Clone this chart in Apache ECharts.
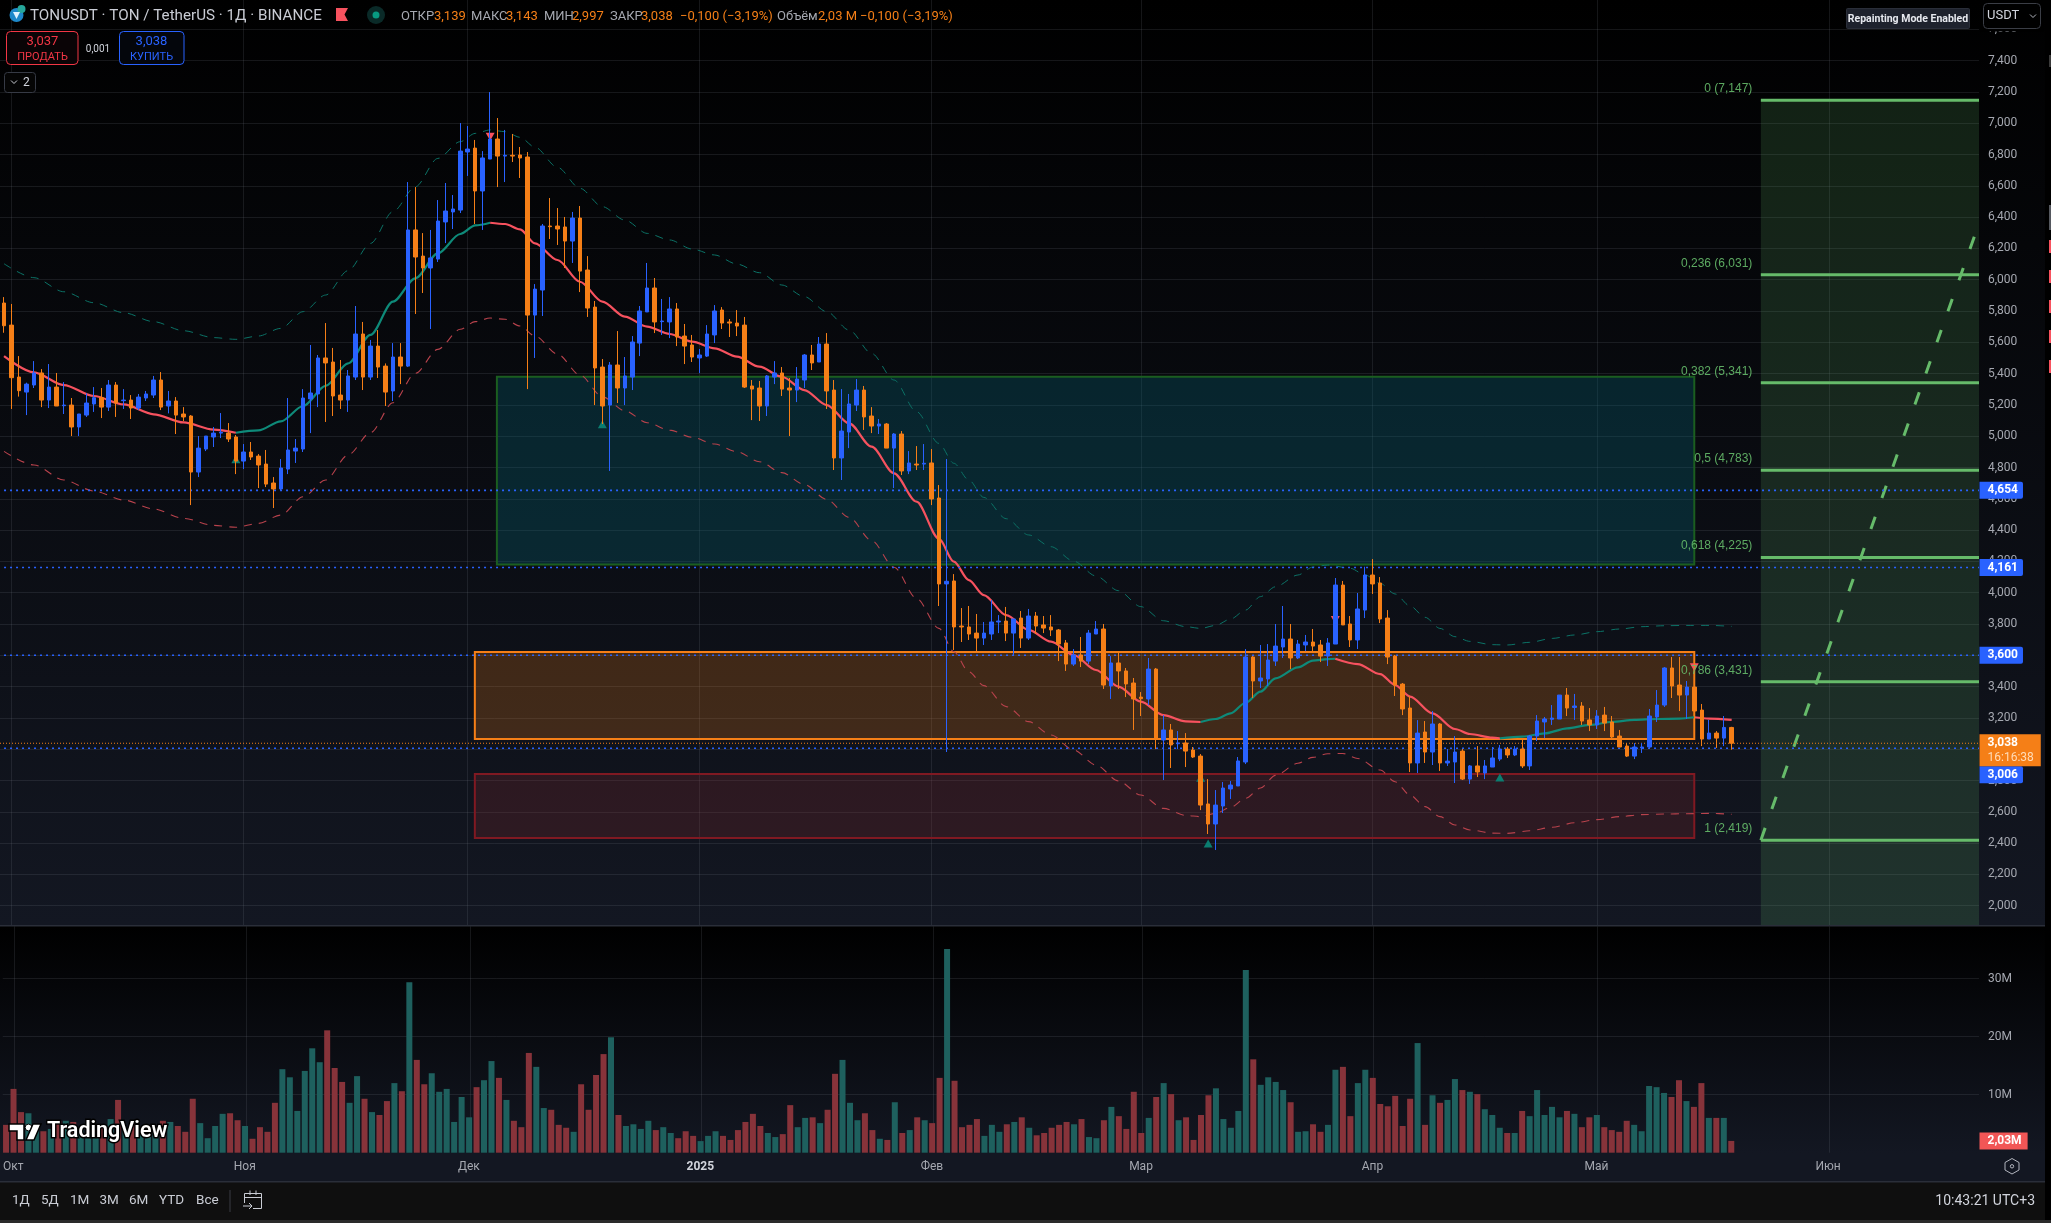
<!DOCTYPE html>
<html><head><meta charset="utf-8">
<style>html,body{margin:0;padding:0;background:#000;overflow:hidden}#c{width:2051px;height:1223px}</style>
<script src="https://cdn.jsdelivr.net/npm/echarts@6/dist/echarts.min.js"></script>
</head><body><div id="c"></div>
<script>
// [open, high, low, close], one row per daily bar from 30 Sep 2024
const ohlc=[
[5.851,5.889,5.661,5.706],[5.710,5.845,5.174,5.374],[5.378,5.512,5.253,5.291],[5.282,5.342,5.135,5.333],[5.327,5.480,5.308,5.404],[5.404,5.429,5.186,5.231],[5.231,5.461,5.180,5.314],[5.314,5.404,5.193,5.193],[5.195,5.346,5.142,5.199],[5.199,5.244,5.001,5.059],
[5.059,5.142,5.001,5.142],[5.135,5.274,5.123,5.212],[5.206,5.314,5.155,5.246],[5.246,5.308,5.116,5.186],[5.186,5.359,5.161,5.327],[5.327,5.346,5.123,5.212],[5.227,5.301,5.174,5.231],[5.231,5.263,5.110,5.180],[5.180,5.270,5.167,5.250],[5.244,5.289,5.225,5.270],
[5.263,5.385,5.244,5.359],[5.359,5.410,5.167,5.186],[5.193,5.289,5.146,5.225],[5.225,5.250,5.014,5.135],[5.142,5.186,5.097,5.123],[5.129,5.135,4.560,4.771],[4.771,5.001,4.739,4.924],[4.918,5.001,4.905,5.001],[4.995,5.059,4.931,5.020],[5.020,5.148,4.988,5.025],
[5.020,5.084,4.963,4.982],[4.995,5.008,4.758,4.841],[4.841,4.950,4.790,4.899],[4.899,4.963,4.848,4.867],[4.873,4.886,4.669,4.816],[4.822,4.912,4.675,4.694],[4.701,4.739,4.541,4.663],[4.663,4.854,4.656,4.797],[4.790,5.244,4.758,4.912],[4.905,4.982,4.829,4.924],
[4.918,5.301,4.899,5.244],[5.238,5.583,5.020,5.276],[5.270,5.519,5.186,5.500],[5.500,5.723,5.091,5.468],[5.474,5.564,5.129,5.257],[5.263,5.487,5.174,5.231],[5.231,5.423,5.155,5.385],[5.378,5.832,5.359,5.653],[5.653,5.730,5.295,5.378],[5.378,5.615,5.359,5.576],
[5.576,5.678,5.372,5.442],[5.448,5.465,5.193,5.282],[5.289,5.595,5.225,5.506],[5.506,5.595,5.333,5.448],[5.448,6.624,5.442,6.318],[6.318,6.592,5.781,6.145],[6.151,6.298,5.915,6.075],[6.075,6.318,5.685,6.139],[6.132,6.509,6.113,6.375],[6.369,6.618,6.234,6.439],
[6.433,6.541,6.324,6.452],[6.445,7.001,6.426,6.822],[6.816,6.982,6.663,6.835],[6.841,6.893,6.356,6.567],[6.567,6.822,6.318,6.778],[6.771,7.199,6.771,6.899],[6.899,7.033,6.592,6.790],[6.790,6.957,6.624,6.795],[6.795,6.931,6.752,6.790],[6.797,6.848,6.650,6.778],
[6.784,6.816,5.301,5.774],[5.774,5.972,5.500,5.940],[5.934,6.356,5.768,6.343],[6.343,6.522,6.260,6.339],[6.343,6.458,6.222,6.324],[6.337,6.401,6.075,6.247],[6.247,6.433,6.107,6.394],[6.394,6.471,5.921,6.055],[6.062,6.151,5.762,5.819],[5.825,5.864,5.199,5.436],
[5.442,5.493,5.078,5.193],[5.199,5.474,4.778,5.455],[5.455,5.672,5.212,5.308],[5.308,5.506,5.199,5.385],[5.378,5.640,5.295,5.602],[5.595,5.832,5.512,5.800],[5.794,6.107,5.794,5.947],[5.947,6.011,5.659,5.730],[5.732,5.877,5.647,5.736],[5.730,5.889,5.627,5.813],
[5.813,5.851,5.576,5.634],[5.640,5.717,5.461,5.576],[5.583,5.647,5.474,5.506],[5.500,5.557,5.404,5.519],[5.512,5.710,5.506,5.653],[5.647,5.838,5.595,5.800],[5.806,5.825,5.685,5.723],[5.730,5.749,5.634,5.723],[5.723,5.806,5.640,5.704],[5.710,5.762,5.308,5.314],
[5.321,5.359,5.103,5.301],[5.308,5.353,5.097,5.193],[5.193,5.391,5.129,5.385],[5.378,5.480,5.333,5.404],[5.404,5.442,5.257,5.301],[5.308,5.372,5.001,5.295],[5.295,5.442,5.218,5.365],[5.359,5.525,5.308,5.519],[5.519,5.583,5.423,5.468],[5.474,5.634,5.474,5.589],
[5.589,5.659,5.174,5.289],[5.295,5.359,4.784,4.861],[4.861,5.301,4.720,5.033],[5.027,5.270,4.924,5.206],[5.199,5.365,5.161,5.295],[5.295,5.321,5.040,5.123],[5.129,5.186,5.020,5.065],[5.065,5.110,5.014,5.078],[5.078,5.084,4.924,4.924],[4.924,5.020,4.669,5.014],
[5.014,5.033,4.752,4.778],[4.778,4.905,4.758,4.829],[4.822,4.937,4.784,4.816],[4.822,4.950,4.784,4.827],[4.829,4.918,4.560,4.599],[4.605,4.688,3.915,4.056],[4.056,4.854,2.982,4.073],[4.075,4.119,3.634,3.781],[3.787,3.902,3.685,3.781],[3.781,3.915,3.698,3.736],
[3.742,3.864,3.621,3.710],[3.710,3.813,3.666,3.742],[3.736,3.953,3.698,3.813],[3.813,3.857,3.742,3.819],[3.819,3.909,3.691,3.742],[3.742,3.832,3.602,3.832],[3.838,3.883,3.647,3.710],[3.710,3.896,3.698,3.851],[3.851,3.877,3.736,3.787],[3.794,3.851,3.742,3.774],
[3.781,3.857,3.723,3.762],[3.762,3.768,3.563,3.672],[3.679,3.698,3.500,3.544],[3.544,3.640,3.532,3.602],[3.602,3.717,3.525,3.563],[3.563,3.762,3.544,3.742],[3.736,3.819,3.736,3.768],[3.768,3.800,3.385,3.410],[3.404,3.595,3.321,3.551],[3.551,3.621,3.385,3.500],
[3.500,3.519,3.333,3.417],[3.423,3.455,3.123,3.321],[3.333,3.365,3.212,3.323],[3.321,3.583,3.282,3.512],[3.512,3.519,3.001,3.071],[3.059,3.218,2.803,3.123],[3.123,3.161,2.880,3.027],[3.035,3.116,3.001,3.040],[3.040,3.103,2.886,2.988],[2.995,3.014,2.944,2.950],
[2.956,2.969,2.611,2.643],[2.650,2.809,2.458,2.522],[2.522,2.739,2.356,2.643],[2.637,2.790,2.592,2.752],[2.746,2.797,2.682,2.771],[2.765,2.950,2.765,2.925],[2.918,3.640,2.905,3.589],[3.589,3.595,3.327,3.436],[3.436,3.666,3.391,3.455],[3.449,3.672,3.404,3.570],
[3.563,3.800,3.532,3.659],[3.653,3.915,3.583,3.704],[3.704,3.800,3.512,3.583],[3.583,3.698,3.576,3.672],[3.666,3.730,3.627,3.685],[3.685,3.768,3.627,3.659],[3.666,3.698,3.557,3.595],[3.595,3.710,3.532,3.679],[3.672,4.094,3.672,4.049],[4.049,4.075,3.794,3.794],
[3.800,3.851,3.653,3.698],[3.698,3.998,3.640,3.896],[3.889,4.166,3.838,4.113],[4.113,4.215,3.992,4.056],[4.062,4.100,3.806,3.832],[3.838,3.889,3.544,3.589],[3.595,3.602,3.340,3.410],[3.416,3.423,3.218,3.257],[3.263,3.340,2.854,2.912],[2.912,3.186,2.848,3.103],
[3.110,3.180,2.912,2.982],[2.982,3.244,2.899,3.161],[3.161,3.167,2.861,2.912],[2.912,3.001,2.893,2.924],[2.918,3.084,2.784,2.982],[2.988,3.001,2.803,2.809],[2.809,2.899,2.778,2.893],[2.893,3.020,2.822,2.854],[2.848,2.931,2.809,2.893],[2.886,3.014,2.886,2.944],
[2.937,3.027,2.924,3.001],[3.001,3.014,2.944,2.963],[2.963,3.020,2.956,3.001],[3.001,3.059,2.880,2.893],[2.893,3.091,2.867,3.084],[3.084,3.218,3.052,3.180],[3.174,3.206,3.071,3.193],[3.191,3.282,3.155,3.199],[3.193,3.346,3.193,3.346],[3.346,3.391,3.212,3.263],
[3.267,3.353,3.187,3.276],[3.276,3.301,3.155,3.180],[3.187,3.263,3.116,3.155],[3.155,3.250,3.129,3.212],[3.218,3.270,3.116,3.167],[3.174,3.212,3.065,3.078],[3.084,3.123,3.014,3.014],[3.020,3.039,2.950,2.956],[2.956,3.039,2.937,3.014],[3.008,3.039,2.976,3.014],
[3.014,3.257,3.008,3.212],[3.206,3.378,3.174,3.282],[3.282,3.525,3.270,3.519],[3.519,3.589,3.327,3.404],[3.410,3.589,3.244,3.346],[3.346,3.436,3.193,3.397],[3.397,3.551,3.187,3.244],[3.250,3.289,3.020,3.065],[3.065,3.187,3.065,3.103],[3.103,3.116,3.008,3.071],
[3.071,3.212,3.020,3.139],[3.139,3.143,2.997,3.038]];
// volume in millions, one per bar
const volumes=[4.8,11,7.0,6.8,4.0,3.7,4.1,5.5,5.5,5.3,3.9,3.9,3.9,4.4,5.8,9.1,4.2,5.5,3.3,3.3,3.9,5.5,5.3,4.6,3.6,9.3,5.1,2.5,4.6,6.7,6.8,5.6,4.6,2.4,4.4,3.6,8.6,14.4,13,7.2,14.1,18,15.6,21.1,14.6,12.2,8.6,13.2,9.3,7,6.5,8.9,12,10.6,29.4,16,11.8,13.7,10.5,11,5.3,9.6,6.1,11.3,12.5,15.8,12.9,9.1,5.5,4.4,17.2,14.8,7.7,7.4,4.8,4.3,3.6,11.8,7.4,13.4,17,19.9,6.5,4.6,4.9,4.1,5.5,3.9,4.4,3.4,2.5,3.7,2.9,2.0,
2.9,3.7,2.9,2.2,3.9,5.3,6.7,4.6,3.4,2.7,3.2,8.2,4.4,6,6.1,5.1,7.4,13.6,16,8.6,5.6,6.8,3.9,2.4,2.2,8.7,3.4,3.9,6.1,5.6,5.1,12.9,35.1,12.4,4.4,4.8,5.8,2.9,4.8,3.6,4.9,5.3,6.1,4.3,3.0,3.4,4.3,4.8,5.3,4.9,5.8,2.7,2.5,5.6,7.9,6.3,4.1,10.5,3.4,6,9.6,12,10.1,5.6,6.1,2.2,6.5,9.9,11.1,5.8,4.3,7.2,31.5,16.1,11.7,13,12.2,10.8,8.7,3.6,3.7,4.9,3.6,4.8,14.3,14.8,6.3,12,14.3,12.9,8.4,8,9.8,
4.6,9.3,18.9,4.8,9.9,8.6,9.1,12.7,10.8,10.5,10.1,7.5,6.5,4.3,3.4,3.4,7.2,6.3,10.8,6.5,7.9,6.1,7.2,6.7,4.4,6.1,6.5,4.4,3.9,3.6,5.5,4.8,3.7,11.5,11.3,10.3,9.6,12.5,8.9,7.9,12,6,6,6,2.03];
// indicator curves read at [bar, price]
const basis=[[0,5.512],[4,5.408],[8,5.327],[12,5.257],[16,5.203],[20,5.140],[24,5.088],[28,5.042],[31,5.022],[34,5.037],[37,5.095],[40,5.193],[43,5.321],[46,5.465],[49,5.647],[52,5.860],[55,6.009],[58,6.168],[61,6.292],[63,6.347],[65,6.364],[67,6.356],[69,6.322],[71,6.232],[74,6.126],[77,5.987],[80,5.860],[83,5.764],[86,5.700],[89,5.653],[92,5.604],[95,5.561],[98,5.508],[101,5.444],[104,5.380],[107,5.295],[110,5.199],[113,5.082],[116,4.933],[119,4.763],[122,4.582],[125,4.345],[127,4.198],[129,4.081],[131,3.985],[134,3.857],[137,3.762],[140,3.687],[143,3.602],[146,3.506],[149,3.400],[152,3.304],[155,3.218],[158,3.178],[160,3.174],[162,3.193],[164,3.229],[166,3.297],[168,3.368],[170,3.453],[173,3.523],[175,3.566],[177,3.576],[178,3.578],[181,3.544],[184,3.480],[186,3.410],[188,3.336],[191,3.229],[194,3.129],[196,3.097],[199,3.074],[200,3.069],[203,3.080],[206,3.101],[209,3.133],[212,3.155],[215,3.174],[218,3.187],[221,3.193],[224,3.195],[226,3.204],[228,3.195],[231,3.187]];
const upperBand=[[0,6.102],[4,6.013],[8,5.923],[12,5.853],[16,5.789],[20,5.732],[24,5.674],[28,5.630],[31,5.619],[34,5.640],[37,5.689],[40,5.796],[43,5.902],[46,6.058],[49,6.232],[52,6.435],[55,6.594],[58,6.775],[61,6.882],[63,6.935],[65,6.957],[67,6.946],[69,6.910],[71,6.846],[74,6.718],[77,6.584],[80,6.467],[83,6.381],[86,6.296],[89,6.254],[92,6.196],[95,6.158],[98,6.100],[101,6.045],[104,5.966],[107,5.892],[110,5.796],[113,5.678],[116,5.529],[119,5.359],[122,5.157],[125,4.954],[127,4.827],[129,4.720],[131,4.609],[134,4.473],[137,4.369],[140,4.294],[143,4.202],[146,4.107],[149,4.013],[152,3.911],[155,3.821],[158,3.783],[160,3.772],[162,3.791],[164,3.832],[166,3.889],[168,3.975],[170,4.038],[173,4.113],[175,4.164],[177,4.177],[180,4.156],[182,4.113],[184,4.060],[186,3.992],[188,3.915],[190,3.843],[192,3.772],[194,3.719],[196,3.689],[199,3.668],[201,3.666],[204,3.683],[207,3.708],[210,3.730],[213,3.751],[216,3.768],[219,3.783],[222,3.789],[225,3.791],[228,3.791],[231,3.785]];
const lowerBand=[[0,4.903],[4,4.816],[8,4.720],[12,4.650],[16,4.592],[20,4.535],[24,4.475],[28,4.430],[31,4.418],[34,4.443],[37,4.496],[40,4.613],[43,4.720],[46,4.880],[49,5.023],[52,5.214],[55,5.402],[58,5.555],[61,5.683],[63,5.732],[65,5.755],[67,5.747],[69,5.704],[71,5.640],[74,5.525],[77,5.391],[80,5.252],[83,5.163],[86,5.086],[89,5.039],[92,4.993],[95,4.950],[98,4.901],[101,4.837],[104,4.767],[107,4.692],[110,4.596],[113,4.481],[116,4.333],[119,4.163],[122,3.964],[125,3.772],[127,3.623],[129,3.495],[131,3.406],[134,3.272],[137,3.176],[140,3.091],[143,2.995],[146,2.899],[149,2.797],[152,2.707],[155,2.622],[158,2.577],[160,2.569],[162,2.590],[164,2.628],[166,2.686],[168,2.752],[170,2.833],[173,2.910],[175,2.948],[177,2.971],[179,2.973],[181,2.941],[184,2.867],[186,2.792],[188,2.707],[190,2.633],[192,2.569],[194,2.516],[196,2.484],[199,2.464],[201,2.462],[204,2.479],[207,2.501],[210,2.530],[213,2.550],[216,2.569],[219,2.582],[222,2.586],[225,2.588],[228,2.590],[231,2.584]];
const trendFlips=[0,31,65,160,178,200,226,231];
const buySignals=[[31,4.852],[80,5.076],[160,2.818],[161,2.398],[200,2.820]];
const sellSignals=[[65,6.914],[178,3.825],[226,3.523]];
const fibNames=['0','0,236','0,382','0,5','0,618','0,786','1'];
const fibValues=[7.147,6.031,5.341,4.783,4.225,3.431,2.419];
const fibDiagonal=[[234.9,2.419],[264,6.35]];
const fibStartBar=234.9;
const keyLevels=[4.654,4.161,3.600,3.006];
const lastPrice=3.038, lastVolume=2.03, countdown='16:16:38';
// zones: [fromBar, toBar, priceTop, priceBottom]
const zoneTeal=[65.9,226,5.380,4.180];
const zoneOrange=[62.95,226,3.621,3.065];
const zoneRed=[62.95,226,2.841,2.432];
const priceTicks=[2,2.2,2.4,2.6,2.8,3,3.2,3.4,3.6,3.8,4,4.2,4.4,4.6,4.8,5,5.2,5.4,5.6,5.8,6,6.2,6.4,6.6,6.8,7,7.2,7.4,7.6];
const volumeTicks=[10,20,30];
const monthBars=[1,32,62,93,124,152,183,213,244];
const monthLabels=['Окт','Ноя','Дек','2025','Фев','Мар','Апр','Май','Июн'];

const X0=-0.54, X1=264.07, AXMAX=7.7873, AXMIN=1.8767;
const BLUE='#2962ff', ORANGE='#f57f17', FIB='#66bb6a', GRIDC='rgba(125,128,140,0.17)', AXTXT='#a5a8b0', FONT='Roboto';
const price=v=>v.toFixed(3).replace('.',',');
const chart=echarts.init(document.getElementById('c'),null,{renderer:'canvas',width:2051,height:1223});

const R=(x,y,w,h,fill,z)=>({type:'rect',shape:{x,y,width:w,height:h},style:{fill},z,silent:true});
const T=(x,y,text,fill,font,align)=>({type:'text',x,y,z:100,silent:true,style:{text,fill,font:font||('13px '+FONT),align:align||'left',verticalAlign:'middle'}});
const grad=(a,b)=>({type:'linear',x:0,y:0,x2:0,y2:1,colorStops:[{offset:0,color:a},{offset:1,color:b}]});
const box=(x,y,w,h,stroke,fill,r,z)=>({type:'rect',shape:{x,y,width:w,height:h,r},style:{fill:fill||'transparent',stroke,lineWidth:1},z:z||100,silent:true});
const PL=(points,stroke,z)=>({type:'polyline',shape:{points},style:{stroke,fill:'none',lineWidth:1},z:z||100,silent:true});

const HY=16.5;
const gr=[
 R(0,0,2045,925,grad('#000000','#131722'),-10),
 R(0,926,2045,227,grad('#000000','#131722'),-10),
 R(0,925,2045,1.5,'#2a2e39',-9),
 R(0,1153,2045,28,'#131722',-10),
 R(0,1181,2045,1.5,'#2a2e39',-9),
 R(0,1182,2045,38,'#0f0f0f',-10),
 R(0,1220,2051,3,'#2a2a2a',-10),
 // right edge blips
 R(2049,55,2,12,'#3a3a3a',90),R(2049,205,2,25,'#55585f',90),
 R(2049,240,2,13,'#f7525f',90),R(2049,270,2,13,'#f7525f',90),R(2049,300,2,13,'#f7525f',90),R(2049,330,2,13,'#f7525f',90),R(2049,360,2,13,'#f7525f',90),
 // symbol header
 {type:'circle',shape:{cx:16.5,cy:15,r:7},style:{fill:'#1e88c9'},z:100,silent:true},
 {type:'circle',shape:{cx:21.5,cy:9,r:4},style:{fill:'#26a69a'},z:101,silent:true},
 {type:'polygon',shape:{points:[[13,12],[20,12],[16.5,19]]},style:{fill:'#dff3ff'},z:101,silent:true},
 T(30,HY,'TONUSDT · TON / TetherUS · 1Д · BINANCE','#c9ccd4','15.2px '+FONT),
 {type:'polygon',shape:{points:[[336,8],[348,8],[344.5,14.5],[348,21],[336,21]]},style:{fill:'#f7525f'},z:100,silent:true},
 {type:'circle',shape:{cx:376,cy:15,r:9},style:{fill:'#0a2a28'},z:100,silent:true},
 {type:'circle',shape:{cx:376,cy:15,r:3.5},style:{fill:'#089981'},z:101,silent:true},
 T(401,HY,'ОТКР','#a5a8b0'),T(434,HY,'3,139',ORANGE),T(471,HY,'МАКС','#a5a8b0'),T(506,HY,'3,143',ORANGE),
 T(544,HY,'МИН','#a5a8b0'),T(572,HY,'2,997',ORANGE),T(610,HY,'ЗАКР','#a5a8b0'),T(641,HY,'3,038',ORANGE),
 T(680,HY,'−0,100 (−3,19%)',ORANGE),T(777,HY,'Объём','#a5a8b0'),T(818,HY,'2,03 M',ORANGE),T(860,HY,'−0,100 (−3,19%)',ORANGE),
 // buy / sell buttons
 box(6.5,31.5,71.5,33,'#f23645','#0a0406',4),T(42.5,42,'3,037','#f23645','13px '+FONT,'center'),T(42.5,57,'ПРОДАТЬ','#f23645','11px '+FONT,'center'),
 T(98,49,'0,001','#d1d4dc','10px '+FONT,'center'),
 box(119.5,31.5,64.5,33,BLUE,'#04060c',4),T(151.5,42,'3,038',BLUE,'13px '+FONT,'center'),T(151.5,57,'КУПИТЬ',BLUE,'11px '+FONT,'center'),
 box(4.5,72.5,31,20,'#363a45','#050505',3),
 PL([[11,80.5],[14,83.5],[17,80.5]],'#c9ccd4'),
 T(23,83,'2','#d1d4dc','12px '+FONT),
 // top-right
 box(1846.5,8.5,123,20,'#2a2e39','#1e222d',1),T(1908,19,'Repainting Mode Enabled','#e6e8ee','bold 10.5px '+FONT,'center'),
 R(1980,0,64,31.5,'#000',100),
 box(1983.5,3.5,57,25,'#3a3d45','#000',4,101),{...T(1987,16,'USDT','#d1d4dc','13px '+FONT),z:102},
 PL([[2030,14.5],[2033,17.5],[2036,14.5]],'#b2b5be',102),
 // watermark
 {type:'polygon',shape:{points:[[9,1124],[24,1124],[24,1140],[17,1140],[17,1131],[9,1131]]},style:{fill:'#fff',stroke:'#000',lineWidth:1.5},z:100,silent:true},
 {type:'circle',shape:{cx:28.5,cy:1127.5,r:3.4},style:{fill:'#fff',stroke:'#000',lineWidth:1},z:100,silent:true},
 {type:'polygon',shape:{points:[[33,1124],[41,1124],[34,1140],[26,1140]]},style:{fill:'#fff',stroke:'#000',lineWidth:1.5},z:100,silent:true},
 {type:'text',x:47,y:1132,z:100,silent:true,style:{text:'TradingView',fill:'#fff',stroke:'#000',lineWidth:3,font:'600 21.5px '+FONT,align:'left',verticalAlign:'middle'}},
 // gear in the time axis
 {type:'polygon',shape:{points:[[2012,1158.5],[2019,1162.5],[2019,1170],[2012,1174],[2005,1170],[2005,1162.5]]},style:{fill:'none',stroke:'#b2b5be',lineWidth:1},z:100,silent:true},
 {type:'circle',shape:{cx:2012,cy:1166.3,r:1.7},style:{fill:'none',stroke:'#b2b5be',lineWidth:1},z:100,silent:true},
 // bottom bar
 ...[['1Д',12],['5Д',41],['1M',70],['3M',99.5],['6M',129],['YTD',159],['Все',196]].map(a=>T(a[1],1201,a[0],'#c9ccd4','13.5px '+FONT)),
 R(229.5,1190,1,22,'#3a3d45',100),
 // go-to-date calendar icon
 PL([[244.5,1203],[244.5,1193.5],[261.5,1193.5],[261.5,1208.5],[253,1208.5]],'#c9ccd4'),
 PL([[244.5,1197.5],[261.5,1197.5]],'#c9ccd4'),
 PL([[250,1190.5],[250,1195]],'#c9ccd4'),PL([[256,1190.5],[256,1195]],'#c9ccd4'),
 PL([[243,1206],[252,1206]],'#c9ccd4'),PL([[249,1203],[252,1206],[249,1209]],'#c9ccd4'),
 T(2035,1201,'10:43:21 UTC+3','#d1d4dc','14px '+FONT,'right')
];

const zoneSeries=(z,fill,stroke)=>[{xAxis:z[0],yAxis:z[2],itemStyle:{color:fill,borderColor:stroke,borderWidth:2}},{xAxis:z[1],yAxis:z[3]}];
const trendSeries=[];
for(let k=0;k<trendFlips.length-1;k++){
  const a=trendFlips[k],b=trendFlips[k+1];
  trendSeries.push({type:'line',xAxisIndex:0,yAxisIndex:0,z:3,symbol:'none',smooth:0.3,smoothMonotone:'x',silent:true,
    lineStyle:{color:k%2?'#0e8a79':'#f7525f',width:2.2},data:basis.filter(p=>p[0]>=a&&p[0]<=b)});
}
const hiddenDot={color:'transparent',opacity:1};
const series=[
 {type:'line',xAxisIndex:0,yAxisIndex:0,z:1,data:[],silent:true,
  markArea:{silent:true,z:1,data:[
    zoneSeries(zoneTeal,'rgba(8,103,118,0.3)','#1b5e20'),
    zoneSeries(zoneOrange,'rgba(245,127,23,0.22)',ORANGE),
    zoneSeries(zoneRed,'rgba(139,42,47,0.23)','#801922'),
    [{xAxis:fibStartBar,yAxis:fibValues[0],itemStyle:{color:'rgba(102,187,106,0.17)',borderWidth:0}},{xAxis:X1,yAxis:AXMIN}]
  ]}},
 {type:'line',z:2,symbol:'none',smooth:0.3,smoothMonotone:'x',silent:true,lineStyle:{color:'#0b7266',width:1,type:[8,7]},data:upperBand},
 {type:'line',z:2,symbol:'none',smooth:0.3,smoothMonotone:'x',silent:true,lineStyle:{color:'#b8424c',width:1.1,type:[8,7]},data:lowerBand},
 ...fibValues.map(v=>({type:'line',z:3,symbol:'none',silent:true,lineStyle:{color:FIB,width:3},data:[[fibStartBar,v],[X1,v]]})),
 {type:'line',z:3,symbol:'none',silent:true,lineStyle:{color:FIB,width:3,type:[13,20]},data:fibDiagonal},
 ...keyLevels.map(v=>({type:'line',z:4,symbol:'none',silent:true,lineStyle:{color:BLUE,width:1.6,type:[2,4]},data:[[0,v],[X1,v]]})),
 {type:'line',z:4,symbol:'none',silent:true,lineStyle:{color:ORANGE,width:1,type:[1,2]},data:[[X0,lastPrice],[X1,lastPrice]]},
 ...trendSeries,
 {type:'scatter',z:5,symbol:'triangle',symbolSize:[9,8],silent:true,itemStyle:{color:'#0b7d70',opacity:1},data:buySignals},
 {type:'scatter',z:5,symbol:'triangle',symbolRotate:180,symbolSize:[9,8],silent:true,itemStyle:{color:'#f7525f',opacity:1},data:sellSignals},
 {type:'candlestick',xAxisIndex:0,yAxisIndex:0,z:6,barWidth:4,silent:true,
  itemStyle:{color:BLUE,borderColor:BLUE,color0:ORANGE,borderColor0:ORANGE,borderWidth:1},
  encode:{x:0,y:[1,2,3,4]},
  data:ohlc.map((r,i)=>[i,r[0],r[3],r[2],r[1]])},
 // fib level captions
 {type:'scatter',z:8,symbolSize:1,silent:true,itemStyle:hiddenDot,
  data:fibValues.map((v,k)=>({value:[fibStartBar,v],label:{show:true,position:'left',distance:5,offset:[-3,-11.5],color:FIB,opacity:0.9,font:'12px '+FONT,formatter:fibNames[k]+' ('+price(v)+')'}}))},
 // price tags on the axis
 {type:'scatter',z:20,symbolSize:1,silent:true,itemStyle:hiddenDot,
  data:keyLevels.map(v=>({value:[X1,v],label:{show:true,opacity:1,position:'right',distance:0,offset:[0,v===3.006?26.5:0],color:'#fff',fontFamily:FONT,fontSize:12,fontWeight:'bold',backgroundColor:BLUE,padding:[2.5,5,2.5,8],borderRadius:[0,2,2,0],formatter:price(v)}}))},
 {type:'scatter',z:21,symbolSize:1,silent:true,itemStyle:hiddenDot,
  data:[{value:[X1,lastPrice],label:{show:true,opacity:1,position:'right',distance:0,offset:[0,7],backgroundColor:ORANGE,padding:[1,7,1,8],align:'left',
    formatter:'{a|'+price(lastPrice)+'}\n{b|'+countdown+'}',rich:{a:{color:'#fff',fontFamily:FONT,fontSize:12,fontWeight:'bold',lineHeight:15},b:{color:'#ffdcb8',fontFamily:FONT,fontSize:12,lineHeight:15}}}}]},
 // volume
 {type:'bar',xAxisIndex:1,yAxisIndex:1,z:3,barWidth:6,silent:true,
  data:volumes.map((v,i)=>({value:[i-0.1,v],itemStyle:{color:ohlc[i][3]>=ohlc[i][0]?'#1e605e':'#87333a'}}))},
 {type:'scatter',xAxisIndex:1,yAxisIndex:1,z:20,symbolSize:1,silent:true,itemStyle:hiddenDot,
  data:[{value:[X1,lastVolume],label:{show:true,opacity:1,position:'right',distance:0,color:'#fff',fontFamily:FONT,fontSize:12,fontWeight:'bold',backgroundColor:'#f25656',padding:[2.5,6,2.5,8],formatter:'2,03M'}}]}
];

const vline={show:true,customValues:monthBars,lineStyle:{color:GRIDC,width:1}};
chart.setOption({
 animation:false,backgroundColor:'#000',
 graphic:{elements:gr},
 grid:[{left:0,top:0,width:1979,height:925,containLabel:false},{left:0,top:926.5,width:1979,height:226.2,containLabel:false}],
 xAxis:[
  {type:'value',gridIndex:0,min:X0,max:X1,axisLine:{show:false},axisTick:{show:false,customValues:monthBars},axisLabel:{show:false,customValues:monthBars},splitLine:vline},
  {type:'value',gridIndex:1,min:X0,max:X1,axisLine:{show:false},axisTick:{show:false,customValues:monthBars},splitLine:vline,
   axisLabel:{show:true,customValues:monthBars,margin:8,color:AXTXT,fontFamily:FONT,fontSize:12,padding:[0,2,0,0],hideOverlap:false,
     formatter:v=>{const s=monthLabels[monthBars.indexOf(v)];return s==='2025'?'{y|2025}':s;},rich:{y:{color:'#d1d4dc',fontWeight:'bold',fontFamily:FONT,fontSize:12}}}}
 ],
 yAxis:[
  {type:'value',gridIndex:0,position:'right',min:AXMIN,max:AXMAX,axisLine:{show:false},axisTick:{show:false,customValues:priceTicks},
   splitLine:{show:true,customValues:priceTicks,lineStyle:{color:GRIDC,width:1}},
   axisLabel:{show:true,customValues:priceTicks,margin:9,color:AXTXT,fontFamily:FONT,fontSize:12,padding:[0,0,3,0],formatter:price}},
  {type:'value',gridIndex:1,position:'right',min:0,max:39,axisLine:{show:false},axisTick:{show:false,customValues:volumeTicks},
   splitLine:{show:true,customValues:volumeTicks,lineStyle:{color:GRIDC,width:1}},
   axisLabel:{show:true,customValues:volumeTicks,margin:9,color:AXTXT,fontFamily:FONT,fontSize:12,padding:[0,0,3,0],formatter:v=>v+'M'}}
 ],
 series:series
});
</script></body></html>
